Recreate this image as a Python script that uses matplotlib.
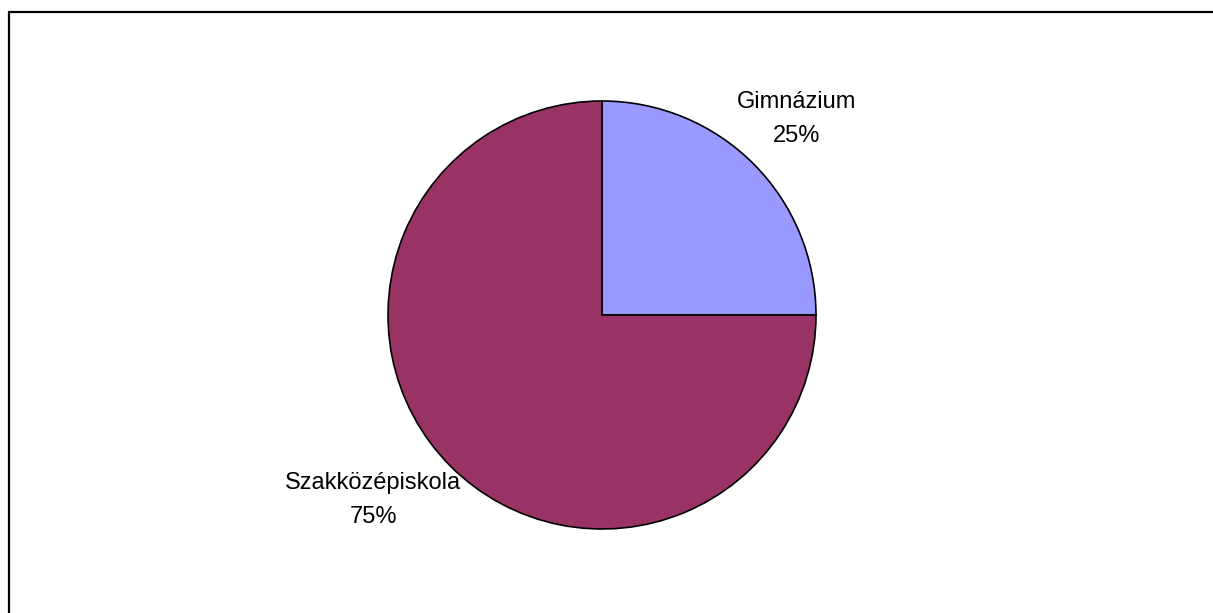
import matplotlib.pyplot as plt
import numpy as np
from matplotlib.patches import Rectangle

# Adatok
categories = ['Gimnázium', 'Szakközépiskola']
shares = [25, 75]
colors = ['#9999FF', '#993366']

plt.rcParams['font.family'] = ['Liberation Sans', 'DejaVu Sans']

W, H = 1213, 613
fig = plt.figure(figsize=(W / 100, H / 100), dpi=100)

# Keret a diagram körül (jobb és alsó széle kilóg a képből)
fig.patches.append(Rectangle((9 / W, -0.05), 1.2, 1 - 12 / H + 0.05,
                             transform=fig.transFigure, fill=False,
                             edgecolor='black', linewidth=1.6))

cx, cy, r = 602, 315, 214
ax = fig.add_axes([(cx - r) / W, (H - cy - r) / H, 2 * r / W, 2 * r / H])
wedges, _ = ax.pie(shares, colors=colors, startangle=90, counterclock=False,
                   wedgeprops=dict(edgecolor='black', linewidth=1.2))
ax.set_xlim(-1, 1)
ax.set_ylim(-1, 1)
ax.set_aspect('equal')
ax.axis('off')

# Címkék a szeletek mellett
label_pos = [(0.91, 0.915), (-1.07, -0.865)]
for (x, y), name, val in zip(label_pos, categories, shares):
    ax.text(x, y, f'{name}\n{val}%', ha='center', va='center',
            fontsize=17, linespacing=1.7)

fig.savefig('out.png', dpi=100)
